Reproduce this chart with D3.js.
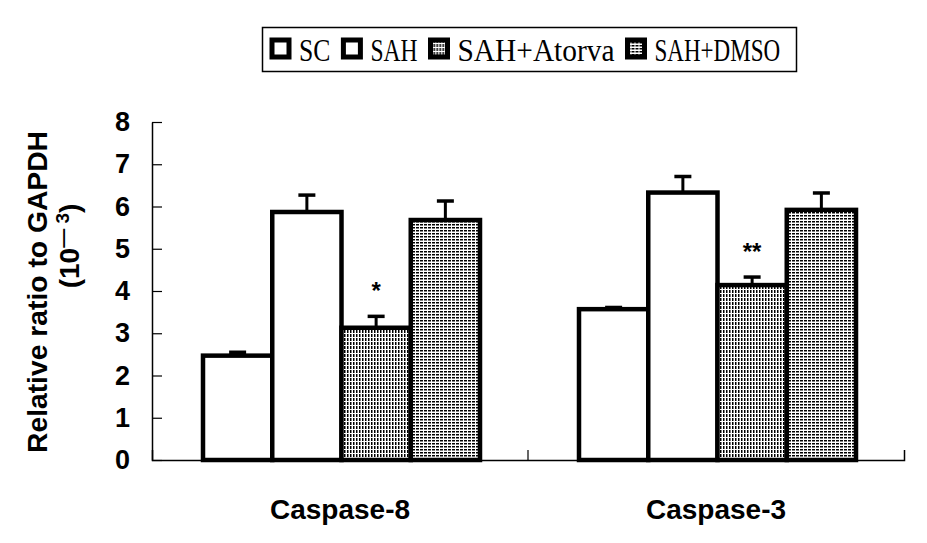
<!DOCTYPE html>
<html>
<head>
<meta charset="utf-8">
<script src="https://cdn.jsdelivr.net/npm/d3@7"></script>
<style>
  body { margin: 0; background: #fff; }
  svg { display: block; }
</style>
</head>
<body>
<div class="chart"></div>
<script>
// data
var genes = ['Caspase-8', 'Caspase-3'];
var groups = ['SC', 'SAH', 'SAH+Atorva', 'SAH+DMSO'];
var caspase8 = [2.47, 5.87, 3.13, 5.68];
var caspase3 = [3.57, 6.33, 4.14, 5.92];
var caspase8Err = [0.08, 0.40, 0.27, 0.45];
var caspase3Err = [0.04, 0.38, 0.19, 0.40];
var caspase8Sig = ['', '', '*', ''];
var caspase3Sig = ['', '', '**', ''];
var yTicks = [0, 1, 2, 3, 4, 5, 6, 7, 8];

var rows = [
  { gene: genes[0], values: caspase8, errs: caspase8Err, sig: caspase8Sig },
  { gene: genes[1], values: caspase3, errs: caspase3Err, sig: caspase3Sig }
];

var W = 927, H = 543;
var margin = { top: 122, right: 23, bottom: 83, left: 152 };
var width = W - margin.left - margin.right;
var height = H - margin.top - margin.bottom;

var svg = d3.select('.chart')
  .append('svg')
    .attr('width', W)
    .attr('height', H);

// fill patterns for the treated groups
var defs = svg.append('defs');
var pv = defs.append('pattern')
  .attr('id', 'vdash')
  .attr('patternUnits', 'userSpaceOnUse')
  .attr('width', 3).attr('height', 4);
pv.append('rect').attr('width', 3).attr('height', 4).attr('fill', '#fff');
pv.append('rect').attr('width', 1.5).attr('height', 3).attr('fill', '#000');

var ph = defs.append('pattern')
  .attr('id', 'hdash')
  .attr('patternUnits', 'userSpaceOnUse')
  .attr('width', 4).attr('height', 3);
ph.append('rect').attr('width', 4).attr('height', 3).attr('fill', '#fff');
ph.append('rect').attr('width', 3).attr('height', 1.5).attr('fill', '#000');

var fills = ['#fff', '#fff', 'url(#vdash)', 'url(#hdash)'];

var g = svg.append('g')
  .attr('transform', `translate(${margin.left}, ${margin.top})`);

var x0 = d3.scaleBand()
  .domain(genes)
  .range([0, width]);

var x1 = d3.scaleBand()
  .domain(groups)
  .range([51, x0.bandwidth() - 48]);

var y = d3.scaleLinear()
  .domain([0, 8])
  .range([height, 0]);

// bars
var grp = g.selectAll('.grp')
  .data(rows)
  .enter()
  .append('g')
    .attr('class', 'grp')
    .attr('transform', d => `translate(${x0(d.gene)}, 0)`);

var items = grp.selectAll('.item')
  .data(d => groups.map((k, i) => ({ key: k, i: i, v: d.values[i], e: d.errs[i], s: d.sig[i] })))
  .enter()
  .append('g');

// error bars (upper only) drawn under the bar outline
items.append('line')
  .attr('x1', d => x1(d.key) + x1.bandwidth() / 2)
  .attr('x2', d => x1(d.key) + x1.bandwidth() / 2)
  .attr('y1', d => y(d.v))
  .attr('y2', d => y(d.v + d.e))
  .style('stroke', '#000')
  .style('stroke-width', 3);

items.append('line')
  .attr('x1', d => x1(d.key) + x1.bandwidth() / 2 - 8.5)
  .attr('x2', d => x1(d.key) + x1.bandwidth() / 2 + 8.5)
  .attr('y1', d => y(d.v + d.e))
  .attr('y2', d => y(d.v + d.e))
  .style('stroke', '#000')
  .style('stroke-width', 3.5);

items.append('rect')
  .attr('x', d => x1(d.key))
  .attr('y', d => y(d.v))
  .attr('width', x1.bandwidth())
  .attr('height', d => height - y(d.v))
  .style('fill', d => fills[d.i])
  .style('stroke', '#000')
  .style('stroke-width', 4.5);

items.filter(d => d.s)
  .append('text')
    .attr('x', d => x1(d.key) + x1.bandwidth() / 2)
    .attr('y', d => y(d.v + d.e) - 17)
    .attr('text-anchor', 'middle')
    .style('font-family', 'Liberation Sans, Arial, sans-serif')
    .style('font-weight', 'bold')
    .style('font-size', '24px')
    .text(d => d.s);

// y axis, ticks point inward
var yAxis = g.append('g')
  .call(d3.axisLeft(y).tickValues(yTicks).tickSizeInner(-10).tickSizeOuter(0).tickPadding(22));

// x axis: line with tick marks between categories
var xAxis = g.append('g')
  .attr('transform', `translate(0, ${height})`)
  .call(d3.axisBottom(x0).tickSize(0).tickSizeOuter(-10).tickPadding(39));

xAxis.selectAll('.mid')
  .data(genes.slice(1))
  .enter()
  .append('line')
    .attr('class', 'mid')
    .attr('x1', d => x0(d))
    .attr('x2', d => x0(d))
    .attr('y1', 0)
    .attr('y2', -10)
    .style('stroke', '#000');

[yAxis, xAxis].forEach(function (ax) {
  ax.select('.domain').style('stroke', '#000').style('stroke-width', 1.5);
  ax.selectAll('.tick line').style('stroke', '#000').style('stroke-width', 1.2);
  ax.selectAll('text')
    .style('font-family', 'Liberation Sans, Arial, sans-serif')
    .style('font-weight', 'bold')
    .style('font-size', '27px')
    .style('fill', '#000');
});
xAxis.selectAll('.tick text').style('font-size', '28px');
xAxis.selectAll('.mid').style('stroke-width', 1.2);

// y axis title
var yTitle = svg.append('g')
  .style('font-family', 'Liberation Sans, Arial, sans-serif')
  .style('font-weight', 'bold')
  .style('font-size', '28px');

yTitle.append('text')
  .attr('transform', 'translate(47, 292) rotate(-90)')
  .attr('text-anchor', 'middle')
  .attr('textLength', 322)
  .attr('lengthAdjust', 'spacingAndGlyphs')
  .text('Relative ratio to GAPDH');

var t2 = yTitle.append('text')
  .attr('transform', 'translate(79, 246) rotate(-90)')
  .attr('text-anchor', 'middle');
t2.append('tspan').text('(10');
t2.append('tspan').attr('dy', -10).style('font-size', '19px').text('\u2014 3');
t2.append('tspan').attr('dy', 10).text(')');

// legend
var legend = svg.append('g');
legend.append('rect')
  .attr('x', 262.5).attr('y', 27.5)
  .attr('width', 534).attr('height', 44)
  .style('fill', '#fff')
  .style('stroke', '#000')
  .style('stroke-width', 1.5);

var charW = 15.7;
var lx = 272;
groups.forEach(function (name, i) {
  var item = legend.append('g').attr('transform', `translate(${lx}, 0)`);
  item.append('rect')
    .attr('x', 0).attr('y', 40)
    .attr('width', 17).attr('height', 17)
    .style('fill', fills[i])
    .style('stroke', '#000')
    .style('stroke-width', 5);
  item.append('text')
    .attr('x', 27).attr('y', 61)
    .attr('textLength', name.length * charW)
    .attr('lengthAdjust', 'spacingAndGlyphs')
    .style('font-family', 'Liberation Serif, Times New Roman, serif')
    .style('font-size', '32px')
    .text(name);
  lx += 27 + name.length * charW + 13;
});
</script>
</body>
</html>
